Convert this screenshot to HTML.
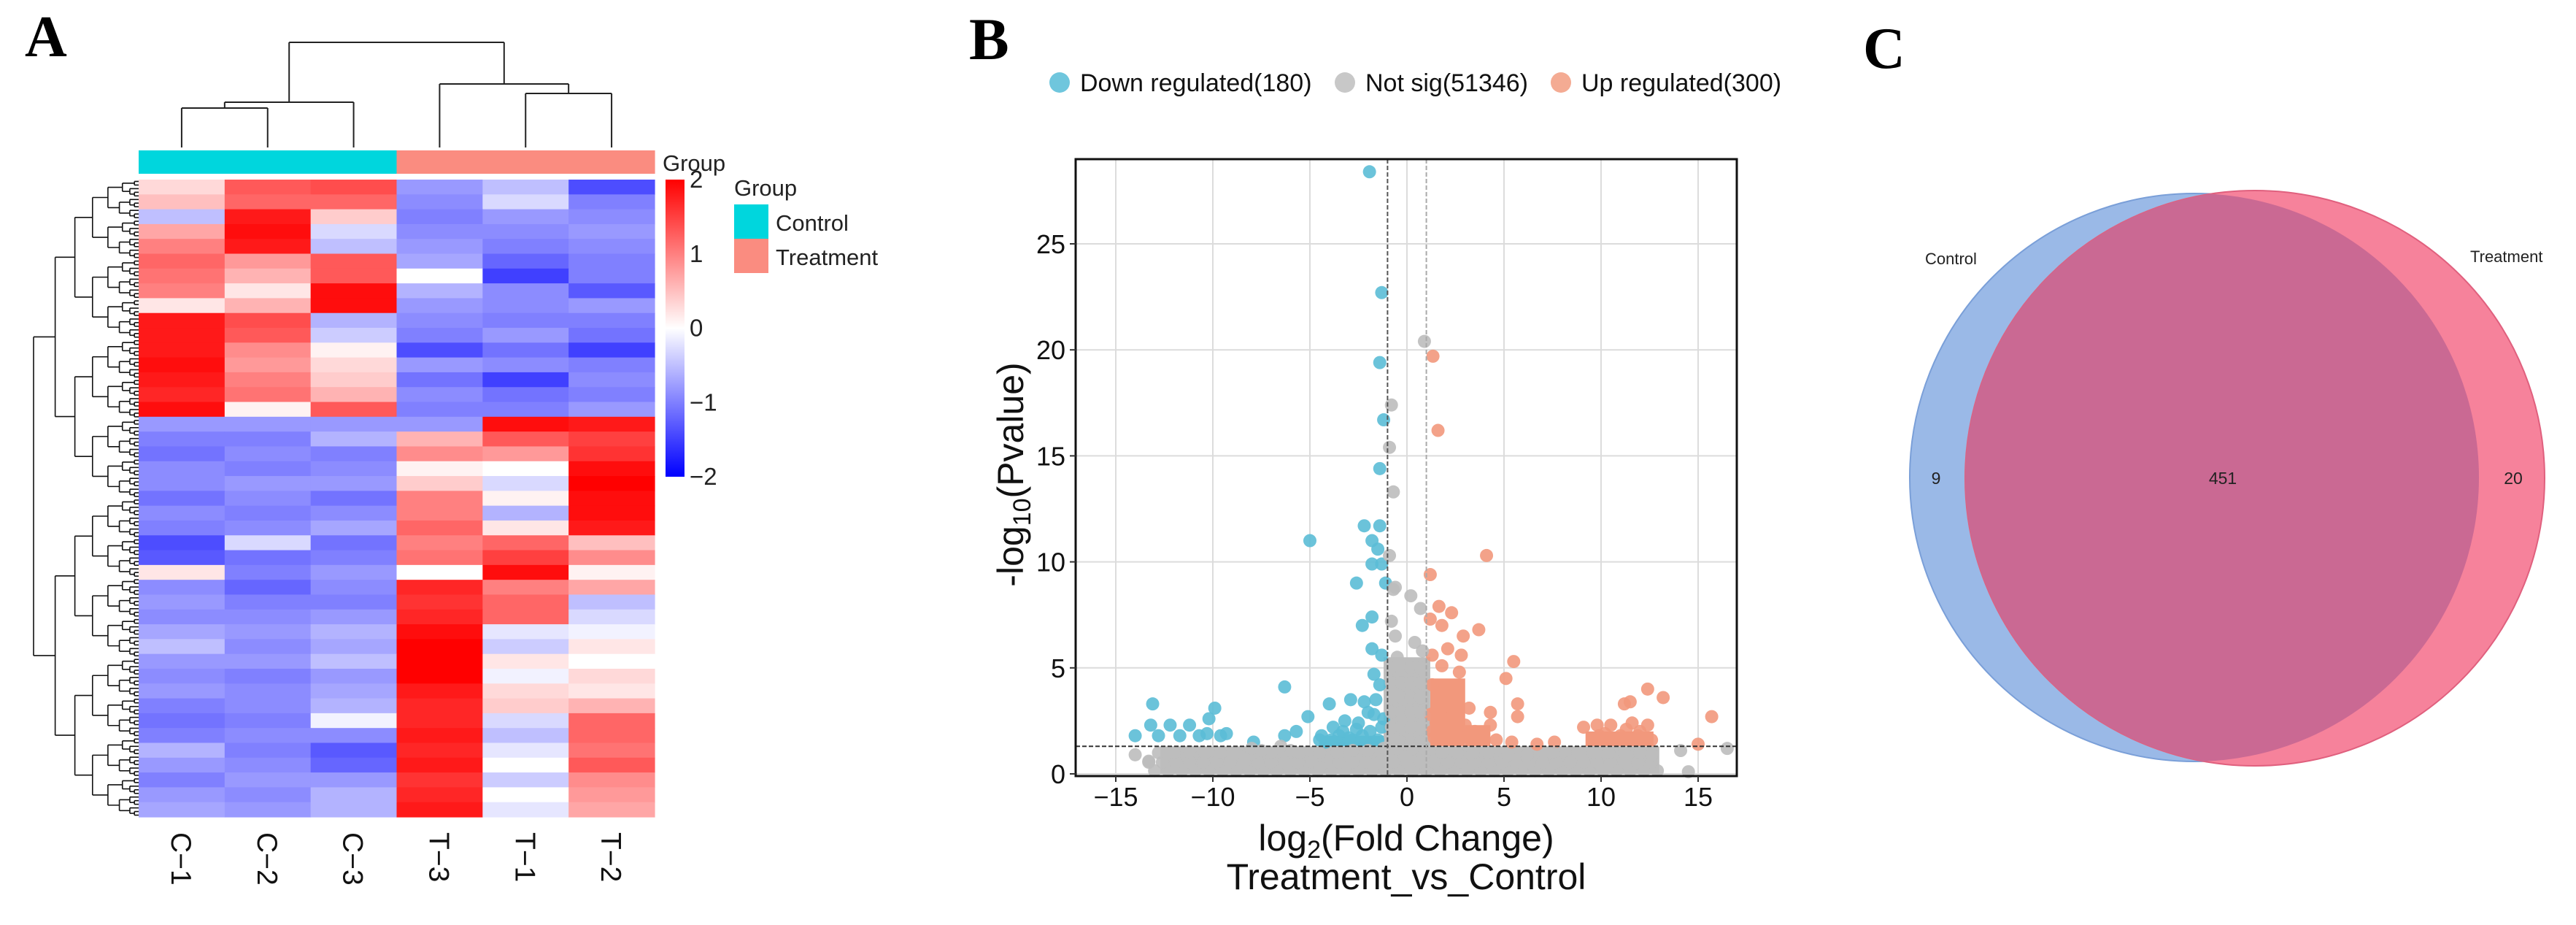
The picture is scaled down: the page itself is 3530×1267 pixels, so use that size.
<!DOCTYPE html>
<html><head><meta charset="utf-8"><style>
html,body{margin:0;padding:0;background:#fff;}
svg{display:block;font-family:"Liberation Sans",Arial,sans-serif;}
</style></head><body>
<svg id="fig" width="3530" height="1267" viewBox="0 0 3530 1267" xmlns="http://www.w3.org/2000/svg">
<rect width="3530" height="1267" fill="#fff"/>
<text x="34" y="77" font-family="Liberation Serif,serif" font-weight="bold" font-size="80">A</text>
<text x="1328" y="81" font-family="Liberation Serif,serif" font-weight="bold" font-size="82">B</text>
<text x="2553" y="93" font-family="Liberation Serif,serif" font-weight="bold" font-size="80">C</text>
<g id="heat"></g>
<g id="volc"></g>
<g id="venn"></g>
</svg>
<script>
const NS="http://www.w3.org/2000/svg";
function mk(p,t,a){const e=document.createElementNS(NS,t);for(const k in a)e.setAttribute(k,a[k]);p.appendChild(e);return e;}

/* ---------- Heatmap data ---------- */
const heatCols=["C−1","C−2","C−3","T−3","T−1","T−2"];
const heatGroups=["Control","Control","Control","Treatment","Treatment","Treatment"];
const heatRows=[
[0.3,1.3,1.4,-0.8,-0.5,-1.4],[0.5,1.2,1.2,-0.9,-0.3,-1.0],[-0.5,1.8,0.4,-1.0,-0.8,-0.9],
[0.7,1.9,-0.3,-0.9,-0.9,-0.8],[1.0,1.8,-0.5,-0.8,-1.0,-0.9],[1.2,0.8,1.3,-0.7,-1.2,-1.0],
[1.1,0.6,1.3,0.0,-1.5,-1.0],[1.0,0.2,1.9,-0.6,-0.9,-1.3],[0.2,0.6,1.9,-0.8,-0.9,-0.8],
[1.8,1.4,-0.6,-0.9,-1.0,-1.0],[1.8,1.3,-0.4,-1.0,-0.8,-1.1],[1.8,0.9,0.1,-1.4,-1.1,-1.5],
[1.9,0.8,0.3,-0.8,-0.9,-1.0],[1.8,1.0,0.4,-1.1,-1.5,-0.9],[1.7,1.1,0.6,-0.9,-1.1,-1.0],
[1.9,0.1,1.3,-1.0,-1.0,-0.8],[-0.8,-0.8,-0.8,-0.8,1.9,1.8],[-1.0,-1.0,-0.6,0.6,1.3,1.5],
[-1.1,-0.9,-1.0,0.9,0.8,1.6],[-0.9,-1.0,-0.9,0.1,0.0,1.9],[-0.9,-0.8,-0.8,0.4,-0.3,2.0],
[-1.1,-0.9,-1.1,1.0,0.1,1.9],[-0.9,-1.0,-0.9,1.0,-0.6,1.9],[-1.0,-0.9,-0.7,1.2,0.2,1.8],
[-1.4,-0.3,-1.1,1.0,1.2,0.5],[-1.3,-1.1,-1.0,1.1,1.5,0.9],[0.2,-1.0,-0.8,0.0,1.9,0.1],
[-0.9,-1.2,-0.9,1.7,1.0,0.7],[-0.8,-1.0,-1.0,1.6,1.2,-0.5],[-0.9,-0.9,-0.8,1.7,1.2,-0.3],
[-0.7,-0.8,-0.6,1.9,-0.2,-0.1],[-0.5,-0.9,-0.7,2.0,-0.4,0.2],[-0.8,-0.8,-0.5,2.0,0.2,0.0],
[-0.9,-1.0,-0.8,2.0,-0.1,0.3],[-0.8,-0.9,-0.7,1.8,0.3,0.2],[-1.0,-0.9,-0.6,1.7,0.4,0.6],
[-1.1,-1.0,-0.1,1.7,-0.3,1.2],[-1.0,-0.9,-0.9,1.8,-0.5,1.2],[-0.6,-1.0,-1.3,1.7,-0.2,1.1],
[-0.8,-0.9,-1.2,1.8,0.0,1.3],[-1.0,-0.8,-0.8,1.6,-0.4,0.9],[-0.8,-0.9,-0.6,1.7,0.0,0.8],
[-0.7,-0.8,-0.6,1.8,-0.2,0.7]];
const colorTicks=[2,1,0,-1,-2];

/* ---------- Volcano data ---------- */
const xTicks=[-15,-10,-5,0,5,10,15];
const yTicks=[0,5,10,15,20,25];
const legendLabels=["Down regulated(180)","Not sig(51346)","Up regulated(300)"];
const downX=[-1.93,-1.3,-1.4,-1.2,-1.4,-2.2,-1.4,-5.0,-1.8,-1.5,-1.8,-1.3,-2.6,-1.1,-1.8,-2.3,-1.8,-1.3,-1.7,-6.3,-13.1,-9.9,-4.0,-2.9,-2.2,-1.6,-5.1,-5.7,-6.3,-13.2,-12.2,-11.2,-10.2,-14,-12.8,-11.7,-10.7,-9.6,-7.9,-4.4,-3.8,-3.2,-2.5,-1.9,-3.5,-2.3,-10.3,-9.3,-4.2,-1.5,-2.8,-3.9,-1.2,-2.0,-1.4,-3.0,-2.6,-1.7,-1.3,-4.5,-3.3];
const downY=[28.4,22.7,19.4,16.7,14.4,11.7,11.7,11.0,11.0,10.6,9.9,9.9,9.0,9.0,7.4,7.0,5.9,5.6,4.7,4.1,3.3,3.1,3.3,3.5,3.4,3.5,2.7,2.0,1.8,2.3,2.3,2.3,2.6,1.8,1.8,1.8,1.8,1.8,1.5,1.8,2.2,2.5,2.4,2.0,1.8,1.8,1.9,1.9,1.5,1.6,1.6,1.6,2.6,2.9,4.2,1.7,2.1,2.8,2.2,1.6,2.0];
const upX=[1.34,1.6,4.1,1.2,1.65,1.2,2.3,1.8,2.9,3.7,2.1,1.3,5.5,2.8,5.1,2.7,1.8,12.4,13.2,5.7,5.7,11.2,11.5,15.7,15.0,4.3,4.3,3.2,3.0,1.8,2.1,1.3,4.6,5.4,6.7,7.6,9.1,9.8,10.5,11.6,12.4,9.9,11.0,11.9,12.6,1.3,1.7,2.2,1.5,2.5,1.4,2.0,2.8,3.5,1.2,2.6,1.5,1.9,2.4,3.2,1.6,2.2,10.2,11.3,12.0];
const upY=[19.7,16.2,10.3,9.4,7.9,7.3,7.6,7.0,6.5,6.8,5.9,5.6,5.3,5.6,4.5,4.8,5.1,4.0,3.6,3.3,2.7,3.3,3.4,2.7,1.4,2.9,2.3,3.1,2.3,3.1,2.6,2.0,1.6,1.5,1.4,1.5,2.2,2.3,2.3,2.4,2.3,1.8,1.8,1.8,1.6,4.2,3.8,3.5,3.0,2.0,1.7,1.6,1.7,2.0,2.8,4.1,2.4,2.2,2.9,1.9,1.6,1.7,1.9,2.1,2.0];
const nsX=[-13,-12.3,-11.6,-10.9,-10.2,-9.5,-8.8,-8.1,-7.4,-6.7,-6,-5.3,-4.6,-3.9,-3.2,-2.5,-1.8,-1.1,-0.4,0.3,1,1.7,2.4,3.1,3.8,4.5,5.2,5.9,6.6,7.3,8,8.7,9.4,10.1,10.8,11.5,12.2,12.9,
-13.3,-12.6,-11.9,-11.2,-10.5,-9.8,-9.1,-8.4,-7.7,-7,-6.3,-5.6,-4.9,-4.2,-3.5,-2.8,-2.1,-1.4,-0.7,0,0.7,1.4,2.1,2.8,3.5,4.2,4.9,5.6,6.3,7,7.7,8.4,9.1,9.8,10.5,11.2,11.9,12.6,
-12.8,-12,-11.2,-10.4,-9.6,-8.8,-8,-7,-5.5,-4.5,-3.6,-2.8,-2,-1.2,-0.5,0.3,1,1.8,2.6,3.4,4.2,5.2,6.2,7.5,8.8,9.6,10.4,11.2,12,12.6,
-0.8,-0.3,0.2,0.7,-0.8,-0.3,0.2,0.7,-0.8,-0.3,0.2,0.7,-0.8,-0.3,0.2,0.7,-0.8,-0.3,0.2,0.7,-0.8,-0.3,0.2,0.7,
-0.9,-0.7,0.2,0.7,-0.8,0.4,-0.6,-0.5,0.8,0.9,-0.8,-0.9,-0.7,-0.6,14.1,14.5,16.5,-14,-13.3,-6,-4.5,-6.5,-8,-7.5];
const nsY=[0.15,0.15,0.15,0.15,0.15,0.15,0.15,0.15,0.15,0.15,0.15,0.15,0.15,0.15,0.15,0.15,0.15,0.15,0.15,0.15,0.15,0.15,0.15,0.15,0.15,0.15,0.15,0.15,0.15,0.15,0.15,0.15,0.15,0.15,0.15,0.15,0.15,0.15,
0.55,0.55,0.55,0.55,0.55,0.55,0.55,0.55,0.55,0.55,0.55,0.55,0.55,0.55,0.55,0.55,0.55,0.55,0.55,0.55,0.55,0.55,0.55,0.55,0.55,0.55,0.55,0.55,0.55,0.55,0.55,0.55,0.55,0.55,0.55,0.55,0.55,0.55,
1.0,1.0,1.05,1.0,1.0,1.0,0.95,1.0,1.0,1.0,1.0,1.1,1.1,1.2,1.2,1.2,1.1,1.0,1.0,1.0,1.0,0.9,0.9,1.0,1.0,1.0,1.0,1.0,1.0,0.9,
1.5,1.5,1.5,1.5,2.2,2.2,2.2,2.2,2.9,2.9,2.9,2.9,3.6,3.6,3.6,3.6,4.3,4.3,4.3,4.3,5.0,5.0,5.0,5.0,
10.3,8.7,8.4,7.8,7.2,6.2,6.5,5.5,5.8,20.4,17.4,15.4,13.3,8.8,1.1,0.1,1.2,0.9,0.6,1.1,0.3,1.3,1.2,1.1];

/* ---------- Venn data ---------- */
const vennSets=["Control","Treatment"];
const vennCounts=[9,451,20];

/* ===== Heatmap drawing ===== */
(function(){
 const g=document.getElementById('heat');
 const L=190,R=897,T=246,B=1119;
 const cw=(R-L)/heatCols.length, rh=(B-T)/heatRows.length;
 function col(v){v=Math.max(-2,Math.min(2,v));let r,gg,b;
  if(v>=0){const t=v/2;r=255;gg=Math.round(255*(1-t));b=gg;}
  else{const t=-v/2;b=255;r=Math.round(255*(1-t));gg=r;}
  return `rgb(${r},${gg},${b})`;}
 heatRows.forEach((row,i)=>{row.forEach((v,j)=>{
  const c=mk(g,'rect',{x:L+j*cw,y:T+i*rh,width:cw+0.6,height:rh+0.6,fill:col(v)});
  
  
 });});
 heatGroups.forEach((gr,j)=>{
  const c=mk(g,'rect',{x:L+j*cw,y:206,width:cw+0.6,height:32,fill:gr==="Control"?"#00d6dd":"#fa8c80"});
  
  
 });
 const ga=mk(g,'text',{x:908,y:234,'font-size':31,fill:'#222'});ga.textContent="Group";
 
 
 heatCols.forEach((c,j)=>{
  const cx=L+(j+0.5)*cw;
  const t=mk(g,'text',{x:0,y:0,'font-size':39,fill:'#111',transform:`translate(${cx-14},1140) rotate(90)`});
  t.textContent=c;
  
  
 });
 const cx=j=>L+(j+0.5)*cw;
 const dg=mk(g,'g',{stroke:'#222','stroke-width':2,fill:'none'});
 
 
 const c12=(cx(0)+cx(1))/2, c45=(cx(4)+cx(5))/2;
 const cA=(c12+cx(2))/2, cB=(cx(3)+c45)/2;
 [[cx(0),202,cx(0),148],[cx(1),202,cx(1),148],[cx(0),148,cx(1),148],
  [c12,148,c12,140],[cx(2),202,cx(2),140],[c12,140,cx(2),140],
  [cx(4),202,cx(4),128],[cx(5),202,cx(5),128],[cx(4),128,cx(5),128],
  [c45,128,c45,115],[cx(3),202,cx(3),115],[cx(3),115,c45,115],
  [cA,140,cA,58],[cB,115,cB,58],[cA,58,cB,58]].forEach(s=>mk(dg,'line',{x1:s[0],y1:s[1],x2:s[2],y2:s[3]}));
 const rg=mk(g,'g',{stroke:'#111','stroke-width':1.6,fill:'none'});
 
 
 const nLeaf=176, lh=(B-T)/nLeaf, maxL=Math.log2(nLeaf);
 function hx(n){return 190-144*Math.pow(Math.log2(n)/maxL,1.6);}
 function build(a,b){
  const n=b-a; if(n===1){return {y:T+(a+0.5)*lh,x:190};}
  const m=a+Math.floor(n/2); const l=build(a,m), r=build(m,b); const x=hx(n);
  mk(rg,'line',{x1:l.x,y1:l.y,x2:x,y2:l.y});mk(rg,'line',{x1:r.x,y1:r.y,x2:x,y2:r.y});
  mk(rg,'line',{x1:x,y1:l.y,x2:x,y2:r.y});return {y:(l.y+r.y)/2,x:x};}
 build(0,nLeaf);
 const grad=mk(g,'defs',{});const lg=mk(grad,'linearGradient',{id:'cbar',x1:0,y1:0,x2:0,y2:1});
 [[0,'#ff0000'],[0.5,'#ffffff'],[1,'#0000ff']].forEach(s=>mk(lg,'stop',{offset:s[0],'stop-color':s[1]}));
 const cb=mk(g,'rect',{x:912,y:246,width:26,height:407,fill:'url(#cbar)'});
 
 
 colorTicks.forEach(v=>{
  const y=246+(2-v)/4*407;
  const t=mk(g,'text',{x:945,y:y+11,'font-size':33,fill:'#222'});t.textContent=v<0?"−"+(-v):String(v);
  
  
 });
 const lt=mk(g,'text',{x:1006,y:268,'font-size':31,fill:'#222'});lt.textContent="Group";
 
 
 ["Control","Treatment"].forEach((n,i)=>{
  const r=mk(g,'rect',{x:1006,y:280+i*47,width:47,height:47,fill:i?"#fa8c80":"#00d6dd"});
  
  
  const t=mk(g,'text',{x:1063,y:316+i*47,'font-size':31,fill:'#222'});t.textContent=n;
  
  
 });
})();

/* ===== Volcano drawing ===== */
(function(){
 const g=document.getElementById('volc');
 const PL=1474,PR=2380,PT=218,PB=1063;
 const sx=v=>1928+v*26.6, sy=v=>1060-v*29.04;
 const grid=mk(g,'g',{stroke:'#dcdcdc','stroke-width':2});
 
 
 xTicks.forEach(v=>mk(grid,'line',{x1:sx(v),x2:sx(v),y1:PT,y2:PB}));
 yTicks.forEach(v=>mk(grid,'line',{x1:PL,x2:PR,y1:sy(v),y2:sy(v)}));
 function pts(X,Y,fill,name){const pg=mk(g,'g',{fill:fill,'fill-opacity':0.9});
  
  
  X.forEach((x,i)=>{const c=mk(pg,'circle',{cx:sx(x),cy:sy(Y[i]),r:9});
   
   });}
 const dense=mk(g,'g',{});
 
 
 mk(dense,'rect',{x:sx(-4.5),y:sy(1.8),width:sx(-1)-sx(-4.5),height:sy(1.3)-sy(1.8),fill:'#5bbcd6'});
 mk(dense,'rect',{x:sx(1.2),y:sy(4.5),width:sx(3)-sx(1.2),height:sy(1.3)-sy(4.5),fill:'#f2987c'});
 mk(dense,'rect',{x:sx(3),y:sy(2.3),width:sx(4.3)-sx(3),height:sy(1.3)-sy(2.3),fill:'#f2987c'});
 mk(dense,'rect',{x:sx(9.2),y:sy(2.0),width:sx(12.7)-sx(9.2),height:sy(1.3)-sy(2.0),fill:'#f2987c'});
 mk(dense,'rect',{x:sx(-12.7),y:sy(1.3),width:sx(13)-sx(-12.7),height:sy(0)-sy(1.3),fill:'#bdbdbd'});
 mk(dense,'rect',{x:sx(-1.2),y:sy(5.5),width:sx(1.2)-sx(-1.2),height:sy(1.3)-sy(5.5),fill:'#bdbdbd'});
 pts(downX,downY,'#5bbcd6','down-regulated-points');
 pts(upX,upY,'#f2987c','up-regulated-points');
 pts(nsX,nsY,'#bdbdbd','not-sig-points');
 const th=mk(g,'g',{'stroke-width':2,'stroke-dasharray':'6,3'});
 
 
 mk(th,'line',{x1:PL,x2:PR,y1:sy(1.3),y2:sy(1.3),stroke:'#333'});
 mk(th,'line',{x1:sx(-1),x2:sx(-1),y1:PT,y2:PB,stroke:'#555'});
 mk(th,'line',{x1:sx(1),x2:sx(1),y1:PT,y2:PB,stroke:'#aaa'});
 const fr=mk(g,'rect',{x:PL,y:PT,width:PR-PL,height:PB-PT,fill:'none',stroke:'#111','stroke-width':3});
 
 
 xTicks.forEach(v=>{mk(g,'line',{x1:sx(v),x2:sx(v),y1:PB,y2:PB+8,stroke:'#333','stroke-width':2});
  const t=mk(g,'text',{x:sx(v),y:1104,'font-size':36,'text-anchor':'middle',fill:'#111'});t.textContent=v<0?"−"+(-v):String(v);
  
  });
 yTicks.forEach(v=>{mk(g,'line',{x1:PL-8,x2:PL,y1:sy(v),y2:sy(v),stroke:'#333','stroke-width':2});
  const t=mk(g,'text',{x:1460,y:sy(v)+13,'font-size':36,'text-anchor':'end',fill:'#111'});t.textContent=String(v);
  
  });
 const xt=mk(g,'text',{x:1927,y:1165,'font-size':50,'text-anchor':'middle',fill:'#111'});
 xt.innerHTML='log<tspan font-size="34" dy="10">2</tspan><tspan dy="-10">(Fold Change)</tspan>';
 
 
 const xt2=mk(g,'text',{x:1927,y:1218,'font-size':50,'text-anchor':'middle',fill:'#111'});xt2.textContent="Treatment_vs_Control";
 
 
 const yt=mk(g,'text',{x:0,y:0,'font-size':50,'text-anchor':'middle',fill:'#111',transform:'translate(1402,650) rotate(-90)'});
 yt.innerHTML='-log<tspan font-size="34" dy="10">10</tspan><tspan dy="-10">(Pvalue)</tspan>';
 
 
 const lc=['#6fc6dd','#c8c8c8','#f4ab93'], lx=[1452,1843,2139];
 legendLabels.forEach((s,i)=>{
  const c=mk(g,'circle',{cx:lx[i],cy:113,r:14,fill:lc[i]});
  
  
  const t=mk(g,'text',{x:lx[i]+28,y:125,'font-size':34,fill:'#111'});t.textContent=s;
  
  
 });
})();

/* ===== Venn drawing ===== */
(function(){
 const g=document.getElementById('venn');
 const d=mk(g,'defs',{});const cp=mk(d,'clipPath',{id:'clipB'});
 mk(cp,'ellipse',{cx:3007,cy:654,rx:390,ry:389});
 const a=mk(g,'ellipse',{cx:3007,cy:654,rx:390,ry:389,fill:'#9ab9e7',stroke:'#7a9fd8','stroke-width':2});
 
 
 const b=mk(g,'ellipse',{cx:3090,cy:655,rx:397,ry:394,fill:'#f6829b',stroke:'#e0607e','stroke-width':2});
 
 
 const o=mk(g,'ellipse',{cx:3090,cy:655,rx:397,ry:394,fill:'#ca6993','clip-path':'url(#clipB)'});
 
 
 const l1=mk(g,'text',{x:2638,y:362,'font-size':22,fill:'#222'});l1.textContent=vennSets[0];
 
 
 const l2=mk(g,'text',{x:3385,y:359,'font-size':22,fill:'#222'});l2.textContent=vennSets[1];
 
 
 [[2653,vennCounts[0]],[3046,vennCounts[1]],[3444,vennCounts[2]]].forEach((p,i)=>{
  const t=mk(g,'text',{x:p[0],y:663,'font-size':23,'text-anchor':'middle',fill:'#222'});t.textContent=String(p[1]);
  
  
 });
})();
</script>
</body></html>
